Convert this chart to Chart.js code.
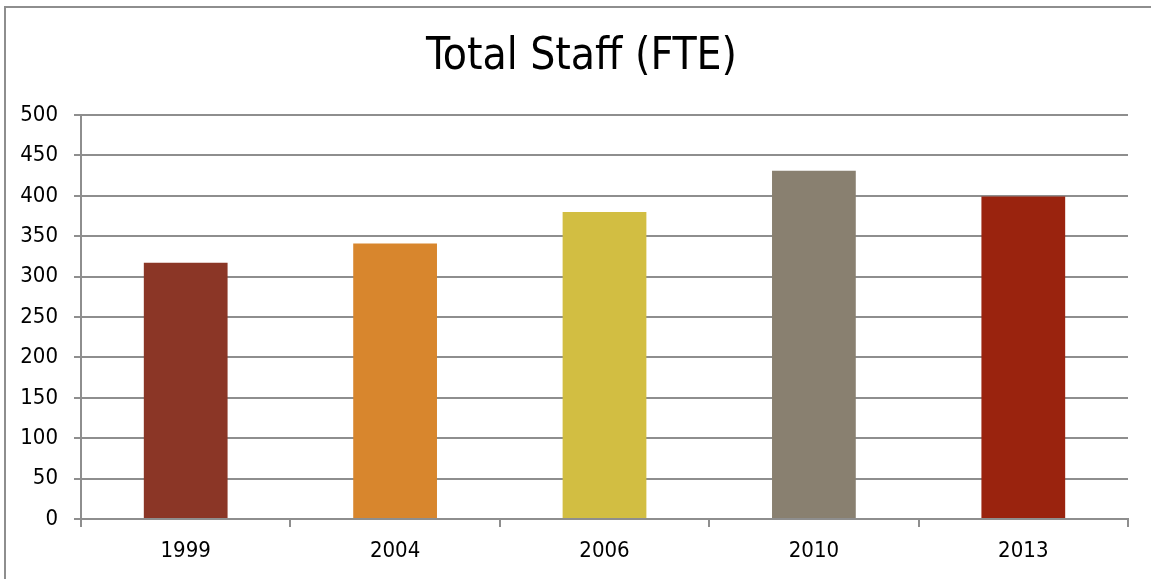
<!DOCTYPE html>
<html>
<head>
<meta charset="utf-8">
<script src="https://cdn.jsdelivr.net/npm/chart.js@4"></script>
<style>
  html, body { margin: 0; padding: 0; background: #fff; }
  #wrap { position: relative; width: 1151px; height: 579px; overflow: hidden; }
  #frame { position: absolute; left: 4px; top: 6px; width: 1200px; height: 700px;
           border-left: 2px solid #8e8e8e; border-top: 2px solid #8e8e8e; pointer-events: none; }
  canvas { position: absolute; left: 0; top: 0; }
</style>
</head>
<body>
<div id="wrap">
  <canvas id="c" width="1151" height="579"></canvas>
  <div id="frame"></div>
</div>
<script>
const categories = ['1999', '2004', '2006', '2010', '2013'];
const staffFTE = [317, 341, 380, 431, 399];
const barColors = ['#8B3626', '#D8862D', '#D2BE42', '#898070', '#9A230E'];
const chartTitle = 'Total Staff (FTE)';

const FONT = '"Liberation Sans Narrow", "Arial Narrow", "DejaVu Sans Condensed", sans-serif';
const GRID = '#8e8e8e';

// shift the title box so it is centred like the original (over the frame, not the padded area)
const titleShift = {
  id: 'titleShift',
  afterLayout(chart) {
    if (chart.titleBlock) { chart.titleBlock.left = 35; chart.titleBlock.right = 1128; }
  }
};

new Chart(document.getElementById('c'), {
  type: 'bar',
  data: {
    labels: categories,
    datasets: [{
      data: staffFTE,
      backgroundColor: barColors,
      borderWidth: 0,
      barPercentage: 0.4,
      categoryPercentage: 1.0
    }]
  },
  plugins: [titleShift],
  options: {
    responsive: false,
    animation: false,
    devicePixelRatio: 1,
    layout: { padding: { left: 0, right: 23, top: 0, bottom: 0 } },
    plugins: {
      legend: { display: false },
      tooltip: { enabled: false },
      title: {
        display: true,
        text: chartTitle,
        color: '#000',
        font: { family: FONT, size: 44, weight: 'normal', lineHeight: 1.2 },
        padding: { top: 31, bottom: 31.2 }
      }
    },
    scales: {
      x: {
        afterFit: s => { s.height = 60; },
        grid: { drawOnChartArea: false, drawTicks: true, tickLength: 8, offset: true, color: GRID, lineWidth: 2 },
        border: { display: true, color: GRID, width: 2 },
        ticks: { color: '#000', font: { family: FONT, size: 22 }, padding: 11, maxRotation: 0 }
      },
      y: {
        min: 0, max: 500,
        afterFit: s => { s.width = 81; },
        grid: { color: GRID, lineWidth: 2, tickLength: 7 },
        border: { display: true, color: GRID, width: 2 },
        ticks: { stepSize: 50, color: '#000', font: { family: FONT, size: 22 }, padding: 16 }
      }
    }
  }
});
</script>
</body>
</html>
